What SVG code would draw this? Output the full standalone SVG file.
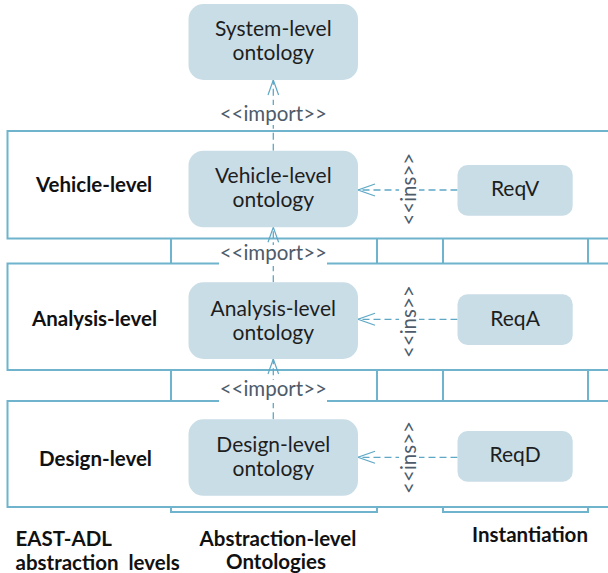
<svg xmlns="http://www.w3.org/2000/svg" width="608" height="573" viewBox="0 0 608 573">
  <defs>
    <style>
      .frame { fill: none; stroke: #6fb3cd; stroke-width: 2; }
      .band { fill: #ffffff; stroke: #6fb3cd; stroke-width: 2; }
      .onto { fill: #c9dde7; }
      .req { fill: #c9dde7; }
      .ntext { font-family: Lato, "Liberation Sans", sans-serif; font-size: 21px; fill: #1e1e1e; text-anchor: middle; }
      .head { font-family: Lato, "Liberation Sans", sans-serif; font-size: 20.5px; font-weight: bold; fill: #111111; }
      .lbl { font-family: Lato, "Liberation Sans", sans-serif; font-size: 20.5px; fill: #4d5b6a; text-anchor: middle; }
      .dash { fill: none; stroke: #5ea8c6; stroke-width: 1.3; stroke-dasharray: 7 4; }
      .tip { fill: none; stroke: #5ea8c6; stroke-width: 1.2; }
      .bg { fill: #ffffff; }
    </style>
  </defs>

  <!-- column frames (behind the level bands) -->
  <g id="columns">
    <rect class="frame" x="171" y="140" width="206" height="372"/>
    <rect class="frame" x="443" y="140" width="145" height="372"/>
  </g>

  <!-- abstraction level bands -->
  <g id="band-vehicle">
    <rect class="band" x="7.5" y="131" width="620" height="107.5"/>
    <text class="head" x="36" y="192">Vehicle-level</text>
  </g>
  <g id="band-analysis">
    <rect class="band" x="7.5" y="263.5" width="620" height="106.5"/>
    <text class="head" x="32" y="326">Analysis-level</text>
  </g>
  <g id="band-design">
    <rect class="band" x="7.5" y="401" width="620" height="106"/>
    <text class="head" x="39" y="466">Design-level</text>
  </g>

  <!-- connectors -->
  <g id="connectors">
    <!-- import: vehicle -> system -->
    <line class="dash" x1="273.3" y1="150.7" x2="273.3" y2="80"/>
    <polyline class="tip" points="268,95 273.3,80 278.6,95"/>
    <rect class="bg" x="219" y="105" width="108" height="20"/>
    <text class="lbl" x="273.3" y="120.5">&lt;&lt;import&gt;&gt;</text>

    <!-- import: analysis -> vehicle -->
    <line class="dash" x1="273.3" y1="282.3" x2="273.3" y2="227.3"/>
    <polyline class="tip" points="268,242.3 273.3,227.3 278.6,242.3"/>
    <rect class="bg" x="219" y="245" width="108" height="21"/>
    <text class="lbl" x="273.3" y="260">&lt;&lt;import&gt;&gt;</text>

    <!-- import: design -> analysis -->
    <line class="dash" x1="273.3" y1="419.3" x2="273.3" y2="359"/>
    <polyline class="tip" points="268,374 273.3,359 278.6,374"/>
    <rect class="bg" x="219" y="380" width="108" height="23"/>
    <text class="lbl" x="273.3" y="395.5">&lt;&lt;import&gt;&gt;</text>

    <!-- instantiation: ReqV -> vehicle ontology -->
    <line class="dash" x1="457.5" y1="190" x2="358" y2="190"/>
    <polyline class="tip" points="375,184 358,190 375,196"/>
    <rect class="bg" x="399" y="154" width="20" height="70"/>
    <text class="lbl" transform="translate(415.5 189.2) rotate(-90)">&lt;&lt;ins&gt;&gt;</text>

    <!-- instantiation: ReqA -> analysis ontology -->
    <line class="dash" x1="457.5" y1="319.3" x2="358" y2="319.3"/>
    <polyline class="tip" points="375,313.3 358,319.3 375,325.3"/>
    <rect class="bg" x="399" y="287" width="20" height="70"/>
    <text class="lbl" transform="translate(415.5 321.7) rotate(-90)">&lt;&lt;ins&gt;&gt;</text>

    <!-- instantiation: ReqD -> design ontology -->
    <line class="dash" x1="457.5" y1="457.3" x2="358" y2="457.3"/>
    <polyline class="tip" points="375,451.3 358,457.3 375,463.3"/>
    <rect class="bg" x="399" y="423" width="20" height="70"/>
    <text class="lbl" transform="translate(415.5 457.5) rotate(-90)">&lt;&lt;ins&gt;&gt;</text>
  </g>

  <!-- ontology nodes -->
  <g id="system-ontology">
    <rect class="onto" x="188.5" y="4" width="169.5" height="76" rx="15"/>
    <text class="ntext" x="273.3" y="36.3">System-level</text>
    <text class="ntext" x="273.3" y="60.3">ontology</text>
  </g>
  <g id="vehicle-ontology">
    <rect class="onto" x="188.5" y="150.7" width="169.5" height="76.6" rx="15"/>
    <text class="ntext" x="273.3" y="183.3">Vehicle-level</text>
    <text class="ntext" x="273.3" y="207.3">ontology</text>
  </g>
  <g id="analysis-ontology">
    <rect class="onto" x="188.5" y="282.3" width="169.5" height="76.7" rx="15"/>
    <text class="ntext" x="273.3" y="316">Analysis-level</text>
    <text class="ntext" x="273.3" y="340">ontology</text>
  </g>
  <g id="design-ontology">
    <rect class="onto" x="188.5" y="419.3" width="169.5" height="76.5" rx="15"/>
    <text class="ntext" x="273.3" y="452">Design-level</text>
    <text class="ntext" x="273.3" y="476">ontology</text>
  </g>

  <!-- requirement nodes -->
  <g id="req-v">
    <rect class="req" x="457.5" y="165" width="115.2" height="50.7" rx="10"/>
    <text class="ntext" x="515.1" y="196.3">ReqV</text>
  </g>
  <g id="req-a">
    <rect class="req" x="457.5" y="294.3" width="115.2" height="50.7" rx="10"/>
    <text class="ntext" x="515.1" y="325.6">ReqA</text>
  </g>
  <g id="req-d">
    <rect class="req" x="457.5" y="431" width="115.2" height="50.7" rx="10"/>
    <text class="ntext" x="515.1" y="462.3">ReqD</text>
  </g>

  <!-- column captions -->
  <g id="captions">
    <text class="head" x="15.5" y="545.7">EAST-ADL</text>
    <text class="head" x="15.5" y="569.5" xml:space="preserve">abstraction  levels</text>
    <text class="head" x="278" y="545.7" text-anchor="middle">Abstraction-level</text>
    <text class="head" x="276" y="568.5" text-anchor="middle">Ontologies</text>
    <text class="head" x="530" y="542.3" text-anchor="middle">Instantiation</text>
  </g>
</svg>
